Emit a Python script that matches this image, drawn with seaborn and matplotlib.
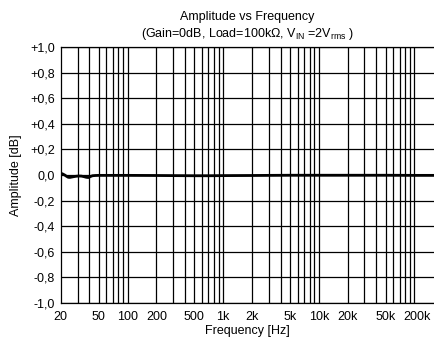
import numpy as np
import pandas as pd
import matplotlib
matplotlib.use("Agg")
import matplotlib.pyplot as plt
import seaborn as sns

# ---- data ----
freq_hz = [20, 21, 22, 23, 24, 25, 27, 29, 31, 33, 35, 37, 39, 41, 43, 46, 50, 60, 80,
           100, 200, 300, 500, 700, 1000, 2000, 3000, 5000, 10000, 20000, 50000, 100000, 160000]
amplitude_db = [0.014, 0.008, 0.0, -0.010, -0.018, -0.019, -0.014, -0.010, -0.008, -0.009,
                -0.013, -0.018, -0.020, -0.012, -0.006, -0.004, -0.003, -0.003, -0.003,
                -0.003, -0.004, -0.005, -0.006, -0.006, -0.005, -0.004, -0.003, -0.002,
                -0.002, -0.002, -0.002, -0.003, -0.003]

ytick_vals = [-1.0, -0.8, -0.6, -0.4, -0.2, 0.0, 0.2, 0.4, 0.6, 0.8, 1.0]
ytick_labels = ["-1,0", "-0,8", "-0,6", "-0,4", "-0,2", "0,0", "+0,2", "+0,4", "+0,6", "+0,8", "+1,0"]
xtick_vals = [20, 50, 100, 200, 500, 1000, 2000, 5000, 10000, 20000, 50000, 105000]
xtick_labels = ["20", "50", "100", "200", "500", "1k", "2k", "5k", "10k", "20k", "50k", "200k"]
grid_freqs = [m * 10 ** e for e in range(1, 6) for m in range(1, 10)
              if 20 < m * 10 ** e <= 100000]

df = pd.DataFrame({"Frequency": freq_hz, "Amplitude": amplitude_db})

sns.set_style("white")
plt.rcParams["font.family"] = ["Liberation Sans", "DejaVu Sans"]
plt.rcParams["mathtext.fontset"] = "custom"
plt.rcParams["mathtext.rm"] = "Liberation Sans"
plt.rcParams["mathtext.it"] = "Liberation Sans:italic"
plt.rcParams["text.color"] = "black"
plt.rcParams["axes.labelcolor"] = "black"
plt.rcParams["xtick.color"] = "black"
plt.rcParams["ytick.color"] = "black"

fig = plt.figure(figsize=(4.34, 3.38), dpi=100)
ax = fig.add_axes([0.1398, 0.1036, 1 - 0.1398, 0.7574])

for f in grid_freqs:
    ax.axvline(f, color="black", lw=0.9, zorder=1)
for y in ytick_vals:
    ax.axhline(y, color="black", lw=0.9, zorder=1)

sns.lineplot(data=df, x="Frequency", y="Amplitude", ax=ax, color="black", lw=2.0, zorder=3)

ax.set_xscale("log")
ax.set_xlim(20, 160000)
ax.set_ylim(-1.0, 1.0)
ax.set_yticks(ytick_vals)
ax.set_yticklabels(ytick_labels)
ax.set_xticks(xtick_vals)
ax.set_xticklabels(xtick_labels)
ax.xaxis.set_minor_locator(matplotlib.ticker.NullLocator())
ax.tick_params(axis="both", length=0, labelsize=9, colors="black", labelcolor="black")
ax.tick_params(axis="x", pad=6)
ax.tick_params(axis="y", pad=4)

for s in ["left", "top", "bottom"]:
    ax.spines[s].set_color("black")
    ax.spines[s].set_linewidth(0.9)
ax.spines["right"].set_visible(False)

ax.set_xlabel("")
ax.set_ylabel("Amplitude [dB]", fontsize=9, labelpad=6, color="black")
fig.text(0.57, 0.004, "Frequency [Hz]", ha="center", va="bottom", fontsize=9, color="black")
fig.text(0.57, 0.95, "Amplitude vs Frequency", ha="center", va="center", fontsize=9, color="black")
fig.text(0.57, 0.899,
         r"(Gain=0dB, Load=100k$\Omega$, V$_{\mathrm{IN}}$ =2V$_{\mathrm{rms}}$ )",
         ha="center", va="center", fontsize=9, color="black")

fig.savefig("out.png", dpi=100)
